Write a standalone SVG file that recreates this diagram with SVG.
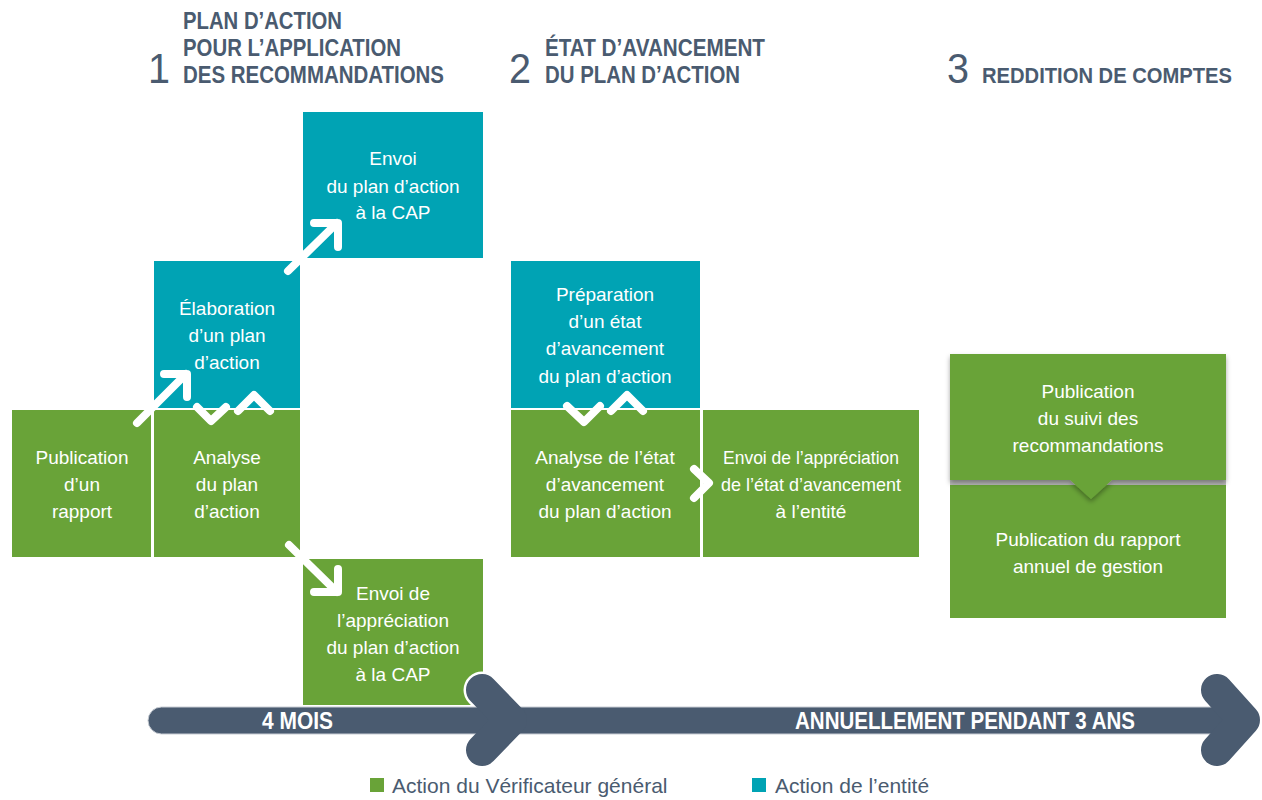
<svg xmlns="http://www.w3.org/2000/svg" width="1262" height="800" viewBox="0 0 1262 800">
<defs>
<style>
.g{fill:#69a338}
.t{fill:#00a3b4}
.bx{font-family:"Liberation Sans",Arial,sans-serif;font-size:19px;fill:#ffffff;text-anchor:middle}
.hd{font-family:"Liberation Sans",Arial,sans-serif;font-size:24px;font-weight:bold;fill:#4a5b70}
.num{font-family:"Liberation Sans",Arial,sans-serif;font-size:42px;fill:#4a5b70}
.tl{font-family:"Liberation Sans",Arial,sans-serif;font-size:23px;font-weight:bold;fill:#ffffff}
.lg{font-family:"Liberation Sans",Arial,sans-serif;font-size:21px;fill:#4a5b70}
.w{fill:none;stroke:#ffffff;stroke-width:8;stroke-linecap:round;stroke-linejoin:round}
.chv{fill:none;stroke:#4a5b70;stroke-width:32;stroke-linecap:round;stroke-linejoin:round}
</style>
<filter id="sh" x="-10%" y="-10%" width="120%" height="130%">
<feDropShadow dx="0" dy="3" stdDeviation="2.5" flood-color="#000000" flood-opacity="0.35"/>
</filter>
</defs>
<rect width="1262" height="800" fill="#ffffff"/>

<g id="headers">
<text class="num" x="148" y="83" textLength="22" lengthAdjust="spacingAndGlyphs">1</text>
<text class="hd" x="183" y="29" textLength="159" lengthAdjust="spacingAndGlyphs">PLAN D’ACTION</text>
<text class="hd" x="183" y="56" textLength="218" lengthAdjust="spacingAndGlyphs">POUR L’APPLICATION</text>
<text class="hd" x="183" y="83" textLength="261" lengthAdjust="spacingAndGlyphs">DES RECOMMANDATIONS</text>
<text class="num" x="509" y="83" textLength="22" lengthAdjust="spacingAndGlyphs">2</text>
<text class="hd" x="545" y="56" textLength="220" lengthAdjust="spacingAndGlyphs">ÉTAT D’AVANCEMENT</text>
<text class="hd" x="545" y="83" textLength="195" lengthAdjust="spacingAndGlyphs">DU PLAN D’ACTION</text>
<text class="num" x="947" y="83" textLength="22" lengthAdjust="spacingAndGlyphs">3</text>
<text class="hd" x="982" y="83" style="font-size:22px" textLength="250" lengthAdjust="spacingAndGlyphs">REDDITION DE COMPTES</text>
</g>

<g id="n-publication">
<rect class="g" x="12" y="410" width="139" height="147"/>
<text class="bx" x="82" y="464">Publication</text>
<text class="bx" x="82" y="491">d’un</text>
<text class="bx" x="82" y="518">rapport</text>
</g>
<g id="n-analyse">
<rect class="g" x="154" y="410" width="146" height="147"/>
<text class="bx" x="227" y="464">Analyse</text>
<text class="bx" x="227" y="491">du plan</text>
<text class="bx" x="227" y="518">d’action</text>
</g>
<g id="n-elaboration">
<rect class="t" x="154" y="261" width="146" height="147"/>
<text class="bx" x="227" y="315">Élaboration</text>
<text class="bx" x="227" y="342">d’un plan</text>
<text class="bx" x="227" y="369">d’action</text>
</g>
<g id="n-envoi-plan">
<rect class="t" x="303" y="112" width="180" height="146"/>
<text class="bx" x="393" y="165">Envoi</text>
<text class="bx" x="393" y="193">du plan d’action</text>
<text class="bx" x="393" y="219">à la CAP</text>
</g>
<g id="n-envoi-appreciation">
<rect class="g" x="303" y="559" width="180" height="146"/>
<text class="bx" x="393" y="600">Envoi de</text>
<text class="bx" x="393" y="627">l’appréciation</text>
<text class="bx" x="393" y="654">du plan d’action</text>
<text class="bx" x="393" y="681">à la CAP</text>
</g>
<g id="n-preparation">
<rect class="t" x="511" y="261" width="189" height="147"/>
<text class="bx" x="605" y="301">Préparation</text>
<text class="bx" x="605" y="328">d’un état</text>
<text class="bx" x="605" y="355">d’avancement</text>
<text class="bx" x="605" y="383">du plan d’action</text>
</g>
<g id="n-analyse-etat">
<rect class="g" x="511" y="410" width="189" height="147"/>
<text class="bx" x="605" y="464">Analyse de l’état</text>
<text class="bx" x="605" y="491">d’avancement</text>
<text class="bx" x="605" y="518">du plan d’action</text>
</g>
<g id="n-envoi-etat">
<rect class="g" x="703" y="410" width="216" height="147"/>
<text class="bx" x="811" y="464" textLength="176" lengthAdjust="spacingAndGlyphs">Envoi de l’appréciation</text>
<text class="bx" x="811" y="491" textLength="180" lengthAdjust="spacingAndGlyphs">de l’état d’avancement</text>
<text class="bx" x="811" y="518">à l’entité</text>
</g>
<g id="n-rapport-annuel">
<rect class="g" x="950" y="484" width="276" height="134"/>
<text class="bx" x="1088" y="546">Publication du rapport</text>
<text class="bx" x="1088" y="573">annuel de gestion</text>
</g>
<rect x="950" y="479" width="276" height="6" fill="#b8b8b8"/>
<g id="n-suivi">
<g filter="url(#sh)">
<path class="g" d="M950 354 H1226 V480 H1112 L1091 499 L1070 480 H950 Z"/>
</g>
<text class="bx" x="1088" y="398">Publication</text>
<text class="bx" x="1088" y="425">du suivi des</text>
<text class="bx" x="1088" y="452">recommandations</text>
</g>

<g id="connectors">
<path class="w" d="M137 423 L186 374 M164 374 H187 V397"/>
<path class="w" d="M288 271 L337 223 M314 223 H338 V247"/>
<path class="w" d="M289 545 L337 592 M314 592 H338 V569"/>
<path class="w" d="M197 407 L211 421 L226 407 M238 411 L254 395 L270 411"/>
<path class="w" d="M567 406 L584 422 L600 406 M611 411 L627 395 L643 411"/>
<path class="w" d="M694 469 L709 483 L694 498"/>
</g>

<g id="timeline">
<path d="M482 690 L511 720 L482 750" fill="none" stroke="#ffffff" stroke-width="37" stroke-linecap="round" stroke-linejoin="round"/>
<rect x="148" y="707" width="1090" height="27" rx="13.5" fill="#4a5b70" stroke="#c8cdd4" stroke-width="1"/>
<path class="chv" d="M482 690 L511 720 L482 750"/>
<path class="chv" d="M1217 690 L1244 720 L1217 750"/>
<text class="tl" x="262" y="729" textLength="71" lengthAdjust="spacingAndGlyphs">4 MOIS</text>
<text class="tl" x="795" y="729" textLength="340" lengthAdjust="spacingAndGlyphs">ANNUELLEMENT PENDANT 3 ANS</text>
</g>

<g id="legend">
<rect class="g" x="370" y="778" width="14" height="14"/>
<text class="lg" x="392" y="793">Action du Vérificateur général</text>
<rect class="t" x="752" y="778" width="14" height="14"/>
<text class="lg" x="775" y="793">Action de l’entité</text>
</g>
</svg>
